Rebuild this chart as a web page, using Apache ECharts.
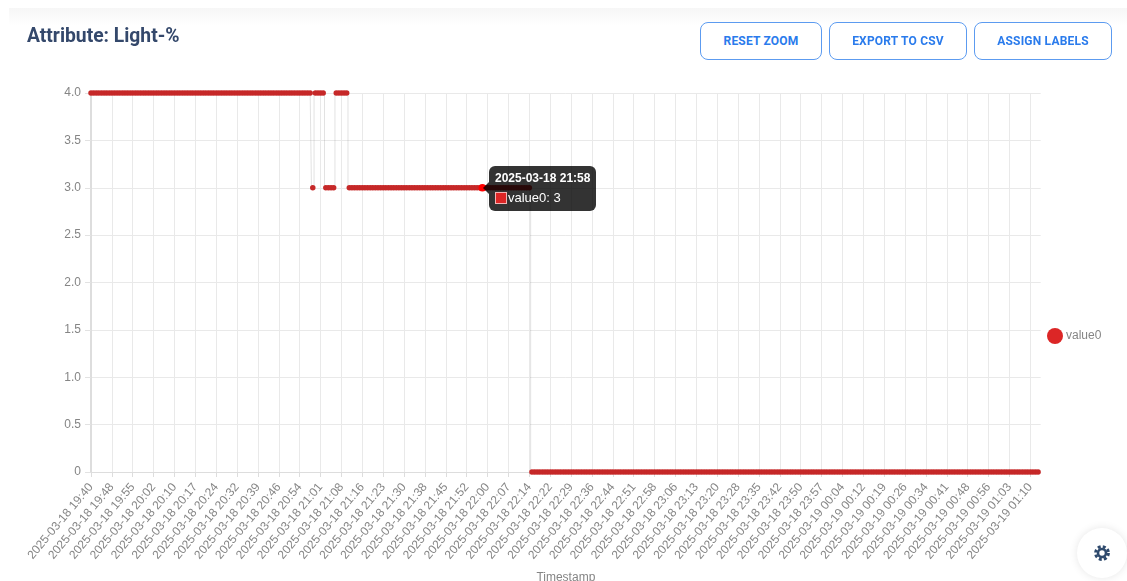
<!DOCTYPE html>
<html>
<head>
<meta charset="utf-8">
<title>Attribute: Light-%</title>
<script src="https://cdn.jsdelivr.net/npm/echarts@6/dist/echarts.min.js"></script>
<style>
  html, body { margin: 0; padding: 0; background: #fff; overflow: hidden; }
  #page { position: relative; width: 1127px; height: 581px; overflow: hidden; }
  #chart { position: absolute; left: 0; top: 0; width: 1127px; height: 581px; }
  .band { position: absolute; left: 9px; right: 0; top: 8px; height: 18px; background: linear-gradient(#f6f6f6, #fff); }
  .title { position: absolute; left: 27px; top: 23px; font: 700 19.3px/26px Roboto, sans-serif; color: #34486b; }
  .btn {
    position: absolute; top: 22px; height: 38px; box-sizing: border-box;
    border: 1px solid #5c9bf0; border-radius: 8px; background: #fff;
    color: #2a7bec; font: 700 12px/36px Roboto, sans-serif; letter-spacing: .2px; text-align: center;
  }
  .gear {
    position: absolute; left: 1077px; top: 528px; width: 50px; height: 50px; border-radius: 50%;
    background: #fff; box-shadow: 0 0 8px rgba(0,0,0,.1);
  }
  .gear svg { position: absolute; left: 17px; top: 17px; }
</style>
</head>
<body>
<div id="page">
  <div class="band"></div>
  <div id="chart"></div>
  <div class="title">Attribute: Light-%</div>
  <div class="btn" style="left:700px;width:122px">RESET ZOOM</div>
  <div class="btn" style="left:829px;width:138px">EXPORT TO CSV</div>
  <div class="btn" style="left:974px;width:138px">ASSIGN LABELS</div>
  <div class="gear">
    <svg width="16" height="16" viewBox="0 0 16 16">
      <circle cx="8" cy="8" r="6.4" fill="none" stroke="#2f4a6d" stroke-width="3" stroke-dasharray="2.9 2.13"/>
      <circle cx="8" cy="8" r="4" fill="none" stroke="#2f4a6d" stroke-width="2.6"/>
    </svg>
  </div>
</div>
<script>
// one reading every 55 s, a tick label on every 8th one
const sampleStart = new Date(2025, 2, 18, 19, 40, 40);
const sampleStepSec = 55;
const sampleCount = 365;
const tickEvery = 8;

const seriesName = 'value0';
const yTicks = [0, 0.5, 1, 1.5, 2, 2.5, 3, 3.5, 4];

const lightValues = [
  4,4,4,4,4,4,4,4,4,4,4,4,4,4,4,4,4,4,4,4,
  4,4,4,4,4,4,4,4,4,4,4,4,4,4,4,4,4,4,4,4,
  4,4,4,4,4,4,4,4,4,4,4,4,4,4,4,4,4,4,4,4,
  4,4,4,4,4,4,4,4,4,4,4,4,4,4,4,4,4,4,4,4,
  4,4,4,4,4,
  3,
  4,4,4,4,
  3,3,3,3,
  4,4,4,4,4,
  3,3,3,3,3,3,3,3,3,3,3,3,3,3,3,3,3,3,3,3,
  3,3,3,3,3,3,3,3,3,3,3,3,3,3,3,3,3,3,3,3,
  3,3,3,3,3,3,3,3,3,3,3,3,3,3,3,3,3,3,3,3,
  3,3,3,3,3,3,3,3,3,3,
  0,0,0,0,0,0,0,0,0,0,0,0,0,0,0,0,0,0,0,0,
  0,0,0,0,0,0,0,0,0,0,0,0,0,0,0,0,0,0,0,0,
  0,0,0,0,0,0,0,0,0,0,0,0,0,0,0,0,0,0,0,0,
  0,0,0,0,0,0,0,0,0,0,0,0,0,0,0,0,0,0,0,0,
  0,0,0,0,0,0,0,0,0,0,0,0,0,0,0,0,0,0,0,0,
  0,0,0,0,0,0,0,0,0,0,0,0,0,0,0,0,0,0,0,0,
  0,0,0,0,0,0,0,0,0,0,0,0,0,0,0,0,0,0,0,0,
  0,0,0,0,0,0,0,0,0,0,0,0,0,0,0,0,0,0,0,0,
  0,0,0,0,0,0,0,0,0,0,0,0,0,0,0,0,0,0,0,0,
  0,0,0,0,0,0,0,0,0,0,0,0,0,0,0
];
const hoverIndex = 150;

function fmtTime(d) {
  const p = n => String(n).padStart(2, '0');
  return d.getFullYear() + '-' + p(d.getMonth() + 1) + '-' + p(d.getDate()) + ' ' + p(d.getHours()) + ':' + p(d.getMinutes());
}

const timestamps = [];
for (let i = 0; i < sampleCount; i++) {
  timestamps.push(fmtTime(new Date(sampleStart.getTime() + i * sampleStepSec * 1000)));
}

const gridColor = '#e9e9e9';
const textColor = '#858585';
const connector = 'rgba(110,110,110,0.2)';
const font = '"Liberation Sans", Arial, sans-serif';

const chart = echarts.init(document.getElementById('chart'));
chart.setOption({
  animation: false,
  textStyle: { fontFamily: font },
  grid: { left: 91, right: 86.3, top: 93, bottom: 109, containLabel: false, outerBoundsMode: 'none' },
  legend: {
    data: [{ name: seriesName, icon: 'circle', itemStyle: { color: '#dc2626' } }],
    orient: 'vertical',
    left: 1047,
    top: 328,
    padding: 0,
    itemWidth: 16,
    itemHeight: 16,
    itemGap: 4,
    textStyle: { color: textColor, fontSize: 12, fontFamily: font, padding: [1, 0, 0, -2] }
  },
  tooltip: {
    trigger: 'item',
    alwaysShowContent: true,
    transitionDuration: 0,
    position: [489, 166],
    backgroundColor: 'rgba(0,0,0,0.8)',
    borderWidth: 0,
    padding: [5, 6],
    extraCssText: 'border-radius:6px;box-shadow:none;',
    formatter: function (p) {
      return '<div style="position:absolute;left:-6px;top:16px;border:6px solid transparent;border-left:0;border-right-color:rgba(0,0,0,.8)"></div>'
        + '<div style="font:700 12px/15px ' + font.replace(/"/g, "'") + ';color:#fff;margin-bottom:4px">' + p.name + '</div>'
        + '<div style="font:13px/16px ' + font.replace(/"/g, "'") + ';color:#fff;white-space:nowrap">'
        + '<span style="display:inline-block;width:10px;height:10px;background:#dc2626;border:1px solid #f3b4b4;vertical-align:-2px;margin-right:1px"></span>'
        + p.seriesName + ': ' + p.value + '</div>';
    }
  },
  xAxis: {
    type: 'category',
    boundaryGap: false,
    data: timestamps,
    name: 'Timestamp',
    nameLocation: 'middle',
    nameGap: 100,
    nameTextStyle: { color: textColor, fontSize: 12, fontFamily: font },
    axisLine: { lineStyle: { color: '#dddddd' } },
    axisTick: { show: true, interval: tickEvery - 1, length: 5, lineStyle: { color: '#dddddd' } },
    axisLabel: { interval: tickEvery - 1, rotate: 50, color: textColor, fontSize: 12, fontFamily: font, margin: 13, hideOverlap: false },
    splitLine: { show: true, interval: tickEvery - 1, lineStyle: { color: gridColor } }
  },
  yAxis: {
    type: 'value',
    min: yTicks[0],
    max: yTicks[yTicks.length - 1],
    interval: yTicks[1] - yTicks[0],
    axisLine: { show: true, lineStyle: { color: '#dddddd', width: 2 } },
    axisTick: { show: true, length: 6, lineStyle: { color: '#e2e2e2' } },
    axisLabel: {
      color: textColor, fontSize: 12, fontFamily: font, margin: 10,
      formatter: v => (v === 0 ? '0' : v.toFixed(1))
    },
    splitLine: { show: true, lineStyle: { color: gridColor } }
  },
  series: [{
    name: seriesName,
    type: 'line',
    data: lightValues,
    clip: false,
    step: 'middle',
    showSymbol: true,
    showAllSymbol: true,
    symbol: 'circle',
    symbolSize: 5.5,
    itemStyle: { color: '#c62828' },
    lineStyle: { color: connector, width: 1 },
    emphasis: { scale: 1.4, itemStyle: { color: '#ff0000' }, lineStyle: { color: connector, width: 1 } }
  }]
});

chart.dispatchAction({ type: 'highlight', seriesIndex: 0, dataIndex: hoverIndex });
chart.dispatchAction({ type: 'showTip', seriesIndex: 0, dataIndex: hoverIndex });
</script>
</body>
</html>
